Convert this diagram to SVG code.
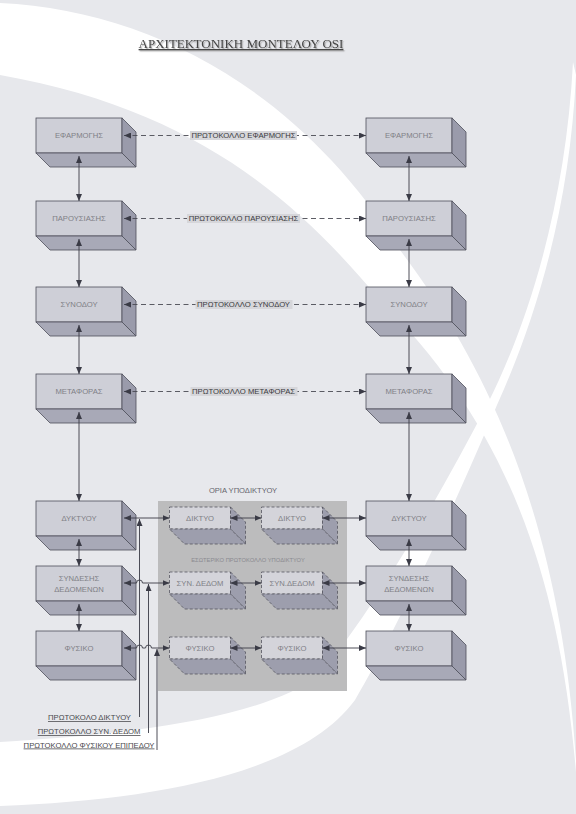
<svg xmlns="http://www.w3.org/2000/svg" xmlns:xlink="http://www.w3.org/1999/xlink" width="576" height="814" viewBox="0 0 576 814">
<style>
.bg{fill:#e7e8ec}
.wh{fill:#ffffff}
.front{fill:#cecfd7;stroke:#4e4f5a;stroke-width:.8}
.side{fill:#9a9bab;stroke:#4e4f5a;stroke-width:.8;stroke-linejoin:round}
.bot{fill:#a8a9b7;stroke:#4e4f5a;stroke-width:.8;stroke-linejoin:round}
.ifront{fill:#d4d4da;stroke:#555660;stroke-width:.8;stroke-dasharray:3 2}
.iside{fill:#9d9ead;stroke:#555660;stroke-width:.8;stroke-dasharray:3 2;stroke-linejoin:round}
.lbl{font-family:"Liberation Sans",Arial,sans-serif;font-size:7.7px;fill:#808086;text-anchor:middle}
.proto{font-family:"Liberation Sans",Arial,sans-serif;font-size:7.7px;fill:#3a3a3e;text-anchor:middle}
.pbg{fill:#d6d6da}
.ln{stroke:#3a3b46;stroke-width:.9;fill:none}
.dash{stroke:#4a4b54;stroke-width:.9;fill:none;stroke-dasharray:5 3.5}
.arr{marker-start:url(#aS);marker-end:url(#aE)}
.blab{font-family:"Liberation Sans",Arial,sans-serif;font-size:7.7px;fill:#48484c;text-anchor:end;text-decoration:underline}
</style>
<defs>
<marker id="aE" markerUnits="userSpaceOnUse" markerWidth="8" markerHeight="6" refX="7" refY="3" orient="auto"><path d="M0,0 L7,3 L0,6 Z" fill="#3a3b46"/></marker>
<marker id="aS" markerUnits="userSpaceOnUse" markerWidth="8" markerHeight="6" refX="0" refY="3" orient="auto"><path d="M7,0 L0,3 L7,6 Z" fill="#3a3b46"/></marker>
<g id="box">
<rect class="front" x="0" y="0" width="86" height="35"/>
<polygon class="side" points="86,0 100,14 100,49 86,35"/>
<polygon class="bot" points="0,35 86,35 100,49 14,49"/>
</g>
<g id="ibox">
<rect class="ifront" x="0" y="0" width="61" height="22"/>
<polygon class="iside" points="61,0 76,15 76,37 61,22"/>
<polygon class="iside" points="0,22 61,22 76,37 15,37"/>
</g>
<filter id="sh" x="-5%" y="-30%" width="110%" height="160%"><feDropShadow dx="1.2" dy="1.2" stdDeviation="0.6" flood-color="#9a9a9a" flood-opacity="0.8"/></filter>
</defs>

<g id="background">
<rect class="bg" x="0" y="0" width="576" height="814"/>
<path class="wh" d="M0,3 C150,10 300,90 400,250 C490,370 560,520 576,760 L576,772 C558,560 500,420 380,300 C300,205 200,110 0,75 Z"/>
<path class="wh" d="M573,62 C566,200 530,320 487,405 C440,495 380,600 320,675 C260,720 120,735 0,742 L0,806 C150,800 300,775 355,700 C390,640 440,540 497,405 C540,310 570,200 576,75 Z"/>
</g>

<text id="title" x="241" y="48" font-family="Liberation Serif,'Times New Roman',serif" font-size="13" fill="#444444" text-anchor="middle" text-decoration="underline" filter="url(#sh)">ΑΡΧΙΤΕΚΤΟΝΙΚΗ ΜΟΝΤΕΛΟΥ OSI</text>

<g id="subnet">
<rect x="158" y="501" width="189" height="190" fill="#bcbcbd"/>
<text x="243" y="493" font-family="Liberation Sans,Arial,sans-serif" font-size="7.6" fill="#66666c" text-anchor="middle">ΟΡΙΑ ΥΠΟΔΙΚΤΥΟΥ</text>
<text x="248" y="562" font-family="Liberation Sans,Arial,sans-serif" font-size="5.8" fill="#8a8a90" text-anchor="middle">ΕΣΩΤΕΡΙΚΟ ΠΡΩΤΟΚΟΛΛΟ ΥΠΟΔΙΚΤΥΟΥ</text>
</g>

<g id="n-l-app" transform="translate(36,118)"><use xlink:href="#box"/><text class="lbl" x="43" y="20.2">ΕΦΑΡΜΟΓΗΣ</text></g>
<g id="n-l-pres" transform="translate(36,201)"><use xlink:href="#box"/><text class="lbl" x="43" y="20.2">ΠΑΡΟΥΣΙΑΣΗΣ</text></g>
<g id="n-l-sess" transform="translate(36,287)"><use xlink:href="#box"/><text class="lbl" x="43" y="20.2">ΣΥΝΟΔΟΥ</text></g>
<g id="n-l-trans" transform="translate(36,374)"><use xlink:href="#box"/><text class="lbl" x="43" y="20.2">ΜΕΤΑΦΟΡΑΣ</text></g>
<g id="n-l-net" transform="translate(36,501)"><use xlink:href="#box"/><text class="lbl" x="43" y="20.2">ΔΥΚΤΥΟΥ</text></g>
<g id="n-l-link" transform="translate(36,566)"><use xlink:href="#box"/><text class="lbl" x="43" y="15">ΣΥΝΔΕΣΗΣ</text><text class="lbl" x="43" y="25.5">ΔΕΔΟΜΕΝΩΝ</text></g>
<g id="n-l-phys" transform="translate(36,631)"><use xlink:href="#box"/><text class="lbl" x="43" y="20.2">ΦΥΣΙΚΟ</text></g>

<g id="n-r-app" transform="translate(366,118)"><use xlink:href="#box"/><text class="lbl" x="43" y="20.2">ΕΦΑΡΜΟΓΗΣ</text></g>
<g id="n-r-pres" transform="translate(366,201)"><use xlink:href="#box"/><text class="lbl" x="43" y="20.2">ΠΑΡΟΥΣΙΑΣΗΣ</text></g>
<g id="n-r-sess" transform="translate(366,287)"><use xlink:href="#box"/><text class="lbl" x="43" y="20.2">ΣΥΝΟΔΟΥ</text></g>
<g id="n-r-trans" transform="translate(366,374)"><use xlink:href="#box"/><text class="lbl" x="43" y="20.2">ΜΕΤΑΦΟΡΑΣ</text></g>
<g id="n-r-net" transform="translate(366,501)"><use xlink:href="#box"/><text class="lbl" x="43" y="20.2">ΔΥΚΤΥΟΥ</text></g>
<g id="n-r-link" transform="translate(366,566)"><use xlink:href="#box"/><text class="lbl" x="43" y="15">ΣΥΝΔΕΣΗΣ</text><text class="lbl" x="43" y="25.5">ΔΕΔΟΜΕΝΩΝ</text></g>
<g id="n-r-phys" transform="translate(366,631)"><use xlink:href="#box"/><text class="lbl" x="43" y="20.2">ΦΥΣΙΚΟ</text></g>

<g id="n-s1-net" transform="translate(169.5,507)"><use xlink:href="#ibox"/><text class="lbl" x="30.5" y="13.7">ΔΙΚΤΥΟ</text></g>
<g id="n-s2-net" transform="translate(261.5,507)"><use xlink:href="#ibox"/><text class="lbl" x="30.5" y="13.7">ΔΙΚΤΥΟ</text></g>
<g id="n-s1-link" transform="translate(169.5,572)"><use xlink:href="#ibox"/><text class="lbl" x="30.5" y="13.7">ΣΥΝ. ΔΕΔΟΜ</text></g>
<g id="n-s2-link" transform="translate(261.5,572)"><use xlink:href="#ibox"/><text class="lbl" x="30.5" y="13.7">ΣΥΝ.ΔΕΔΟΜ</text></g>
<g id="n-s1-phys" transform="translate(169.5,637)"><use xlink:href="#ibox"/><text class="lbl" x="30.5" y="13.7">ΦΥΣΙΚΟ</text></g>
<g id="n-s2-phys" transform="translate(261.5,637)"><use xlink:href="#ibox"/><text class="lbl" x="30.5" y="13.7">ΦΥΣΙΚΟ</text></g>

<g id="connectors">
<path class="ln arr" d="M79,156 L79,201"/>
<path class="ln arr" d="M79,239 L79,287"/>
<path class="ln arr" d="M79,325 L79,374"/>
<path class="ln arr" d="M79,412 L79,501"/>
<path class="ln arr" d="M79,539 L79,566"/>
<path class="ln arr" d="M79,604 L79,631"/>
<path class="ln arr" d="M409,156 L409,201"/>
<path class="ln arr" d="M409,239 L409,287"/>
<path class="ln arr" d="M409,325 L409,374"/>
<path class="ln arr" d="M409,412 L409,501"/>
<path class="ln arr" d="M409,539 L409,566"/>
<path class="ln arr" d="M409,604 L409,631"/>
<path class="dash arr" d="M124,135.5 L366,135.5"/>
<path class="dash arr" d="M124,218.5 L366,218.5"/>
<path class="dash arr" d="M124,304.5 L366,304.5"/>
<path class="dash arr" d="M124,391.5 L366,391.5"/>
<rect class="pbg" x="190" y="131" width="107" height="9"/>
<text class="proto" x="243.5" y="138.3">ΠΡΩΤΟΚΟΛΛΟ ΕΦΑΡΜΟΓΗΣ</text>
<rect class="pbg" x="187" y="214" width="113" height="9"/>
<text class="proto" x="243.5" y="221.3">ΠΡΩΤΟΚΟΛΛΟ ΠΑΡΟΥΣΙΑΣΗΣ</text>
<rect class="pbg" x="195.5" y="300" width="97" height="9"/>
<text class="proto" x="243.5" y="307.3">ΠΡΩΤΟΚΟΛΛΟ ΣΥΝΟΔΟΥ</text>
<rect class="pbg" x="190.5" y="387" width="107" height="9"/>
<text class="proto" x="243.5" y="394.3">ΠΡΩΤΟΚΟΛΛΟ ΜΕΤΑΦΟΡΑΣ</text>
<path class="ln arr" d="M124,518 L169.5,518"/>
<path class="ln arr" d="M124,583 L136.5,583 A3,3 0 0 1 142.5,583 L169.5,583"/>
<path class="ln arr" d="M124,648 L136.5,648 A3,3 0 0 1 142.5,648 L145.5,648 A3,3 0 0 1 151.5,648 L169.5,648"/>
<path class="ln arr" d="M230.5,518 L261.5,518"/>
<path class="ln arr" d="M230.5,583 L261.5,583"/>
<path class="ln arr" d="M230.5,648 L261.5,648"/>
<path class="ln arr" d="M322.5,518 L366,518"/>
<path class="ln arr" d="M322.5,583 L366,583"/>
<path class="ln arr" d="M322.5,648 L366,648"/>
<path class="ln" d="M139.5,717 L139.5,519" marker-end="url(#aE)"/>
<path class="ln" d="M148.5,733 L148.5,584" marker-end="url(#aE)"/>
<path class="ln" d="M157,750 L157,649" marker-end="url(#aE)"/>
<text class="blab" x="131" y="720">ΠΡΩΤΟΚΟΛΟ ΔΙΚΤΥΟΥ</text>
<text class="blab" x="140.5" y="734">ΠΡΩΤΟΚΟΛΛΟ ΣΥΝ. ΔΕΔΟΜ</text>
<text class="blab" x="154.5" y="747.5">ΠΡΩΤΟΚΟΛΛΟ ΦΥΣΙΚΟΥ ΕΠΙΠΕΔΟΥ</text>
</g>
</svg>
